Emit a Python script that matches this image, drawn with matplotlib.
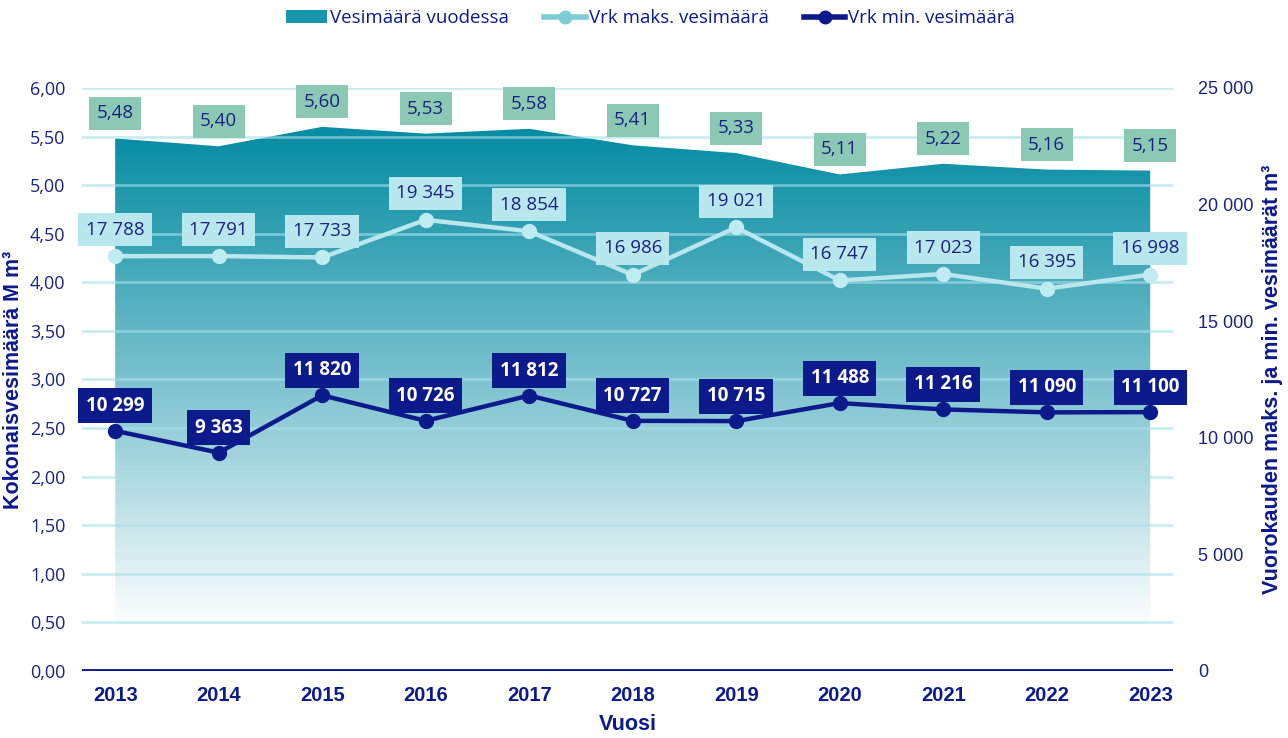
import matplotlib
matplotlib.use('Agg')
import matplotlib.pyplot as plt
import numpy as np
from matplotlib.patches import Patch
from matplotlib.lines import Line2D
from matplotlib.ticker import FuncFormatter

years = [2013, 2014, 2015, 2016, 2017, 2018, 2019, 2020, 2021, 2022, 2023]
total_m = [5.48, 5.40, 5.60, 5.53, 5.58, 5.41, 5.33, 5.11, 5.22, 5.16, 5.15]
max_day = [17788, 17791, 17733, 19345, 18854, 16986, 19021, 16747, 17023, 16395, 16998]
min_day = [10299, 9363, 11820, 10726, 11812, 10727, 10715, 11488, 11216, 11090, 11100]

navy = '#0d1a8c'
txt = '#1a2380'
teal = '#068ca3'
light = '#b8e8ee'
green_box = '#8cc9b4'

sans = ['Open Sans', 'DejaVu Sans']
bold = ['Liberation Sans', 'DejaVu Sans']

fig = plt.figure(figsize=(12.88, 7.38), dpi=100)
ax = fig.add_axes([0.0637, 0.0908, 0.847, 0.790])
ax2 = ax.twinx()

ax.set_xlim(2012.68, 2023.22)
ax.set_ylim(0, 6)
ax2.set_ylim(0, 25000)

# area with vertical gradient teal -> white
poly = ax.fill_between(years, 0, total_m, color='none', lw=0)
top, bot = 5.6, 0.45
ys = np.linspace(6, 0, 400)
frac = np.clip((top - ys) / (top - bot), 0, 1) ** 1.1
c0 = np.array(matplotlib.colors.to_rgb(teal))
grad = c0[None, :] + frac[:, None] * (1 - c0[None, :])
img = ax.imshow(grad[:, None, :], extent=[years[0], years[-1], 0, 6],
                aspect='auto', zorder=1)
path = poly.get_paths()[0]
img.set_clip_path(path, transform=ax.transData)

# grid
for v in np.arange(0.5, 6.01, 0.5):
    ax.axhline(v, color='#a6e0e8', lw=2, alpha=0.6, zorder=2)
ax.axhline(0, color=navy, lw=2.8, zorder=3)

for s in ['left', 'right', 'top', 'bottom']:
    ax.spines[s].set_visible(False)
    ax2.spines[s].set_visible(False)

ax.set_xticks(years)
ax.set_xticklabels([str(y) for y in years], fontfamily=bold, fontweight='bold',
                   fontsize=14.5, color=navy)
ax.set_yticks(np.arange(0, 6.01, 0.5))
ax.yaxis.set_major_formatter(FuncFormatter(lambda v, p: f'{v:.2f}'.replace('.', ',')))
ax.tick_params(axis='both', length=0)
ax.tick_params(axis='x', pad=11)
ax.tick_params(axis='y', pad=12, labelsize=13, labelcolor=txt)
for t in ax.get_yticklabels():
    t.set_fontfamily(sans)

ax2.set_yticks(np.arange(0, 25001, 5000))
ax2.yaxis.set_major_formatter(FuncFormatter(lambda v, p: f'{int(v):,}'.replace(',', ' ')))
ax2.tick_params(axis='y', length=0, pad=18, labelsize=13, labelcolor=txt)
for t in ax2.get_yticklabels():
    t.set_fontfamily(bold)

ax.set_xlabel('Vuosi', fontfamily=bold, fontweight='bold', fontsize=15.5, color=navy, labelpad=6)
ax.set_ylabel('Kokonaisvesimäärä M m³', fontfamily=bold, fontweight='bold',
              fontsize=15.5, color=navy, labelpad=4)
ax2.set_ylabel('Vuorokauden maks. ja min. vesimäärät m³', fontfamily=bold,
               fontweight='bold', fontsize=15.5, color=navy, rotation=90, labelpad=6)

ax2.plot(years, max_day, color=light, lw=3.2, marker='o', ms=10,
         markerfacecolor='#bfecf1', markeredgecolor='#bfecf1', zorder=4)
ax2.plot(years, min_day, color=navy, lw=3.2, marker='o', ms=10, zorder=5)


def fmt(v):
    return f'{v:,}'.replace(',', ' ')


for x, v in zip(years, total_m):
    ax2.annotate(f'{v:.2f}'.replace('.', ','), (x, v / 6 * 25000), xytext=(0, 18),
                 textcoords='offset points', ha='center', va='center', fontsize=13.5,
                 fontfamily=sans, color=txt, zorder=6,
                 bbox=dict(boxstyle='square,pad=0.4', fc=green_box, ec='none'))
for x, v in zip(years, max_day):
    ax2.annotate(fmt(v), (x, v), xytext=(0, 19), textcoords='offset points',
                 ha='center', va='center', fontsize=13.5, fontfamily=sans, color=txt,
                 zorder=6, bbox=dict(boxstyle='square,pad=0.4', fc=light, ec='none'))
for x, v in zip(years, min_day):
    ax2.annotate(fmt(v), (x, v), xytext=(0, 18), textcoords='offset points',
                 ha='center', va='center', fontsize=13.5, fontfamily=sans,
                 fontweight='bold', color='white', zorder=7,
                 bbox=dict(boxstyle='square,pad=0.4', fc=navy, ec='none'))

handles = [
    Patch(facecolor='#1596ad', edgecolor='none'),
    Line2D([0], [0], color='#7dcdd6', lw=4, marker='o', ms=9),
    Line2D([0], [0], color=navy, lw=4, marker='o', ms=9),
]
labels = ['Vesimäärä vuodessa', 'Vrk maks. vesimäärä', 'Vrk min. vesimäärä']
leg = fig.legend(handles, labels, loc='upper center', bbox_to_anchor=(0.505, 1.01),
                 ncol=3, frameon=False, columnspacing=1.9,
                 handlelength=2.2, handletextpad=0.15, prop={'family': sans, 'size': 13.5})
for t in leg.get_texts():
    t.set_color(navy)

fig.savefig('out.png', dpi=100)
